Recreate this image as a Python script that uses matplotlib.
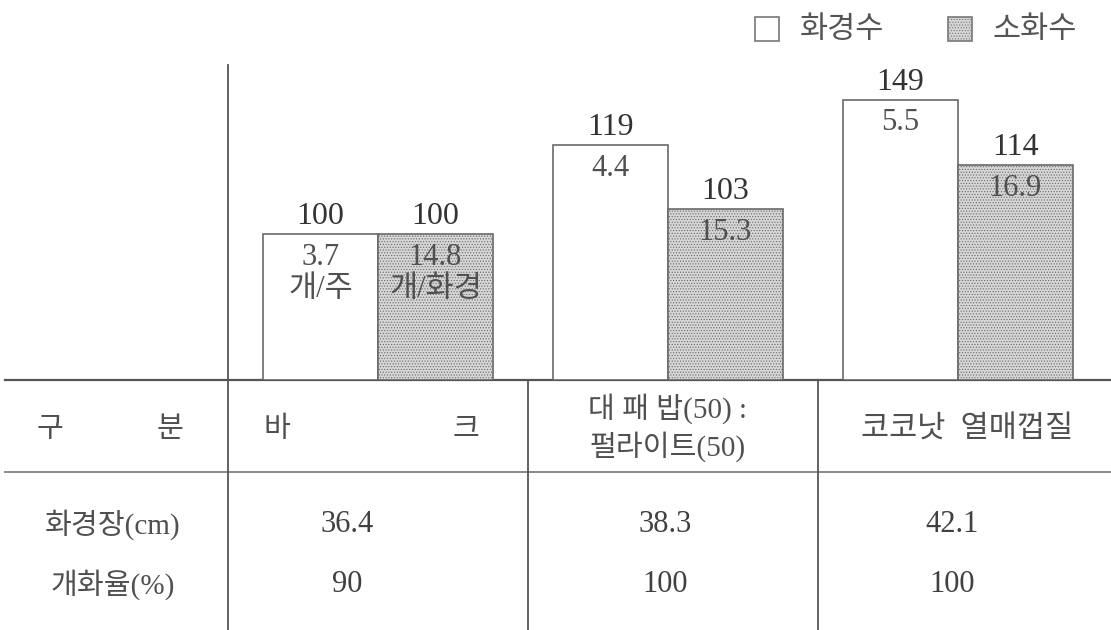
import matplotlib
matplotlib.use("Agg")
import matplotlib.pyplot as plt

plt.rcParams['font.family'] = ['Liberation Serif', 'Noto Sans CJK KR']
plt.rcParams['hatch.linewidth'] = 0.5
plt.rcParams['hatch.color'] = '#ababab'

# data
media = ['바', '크', '대 패 밥(50) :\n펄라이트(50)', '코코낫  열매껍질']
series = ['화경수', '소화수']
index_vals = [[100, 119, 149], [100, 103, 114]]          # label above bar
inner_vals = [['3.7\n개/주', '4.4', '5.5'], ['14.8\n개/화경', '15.3', '16.9']]
# drawn bar heights as they appear in the figure (바크 = 100)
drawn = [[100, 161, 192], [100, 117, 147]]
stem_len = ['36.4', '38.3', '42.1']
flower_rate = ['90', '100', '100']
row_names = ['화경장(cm)', '개화율(%)']

W, H = 1111, 630
fig = plt.figure(figsize=(W / 100, H / 100), dpi=100)

# overlay in pixel coordinates for the table frame
ov = fig.add_axes([0, 0, 1, 1])
ov.set_xlim(0, W)
ov.set_ylim(H, 0)
ov.axis('off')

line_c = '#555555'
txt_c = '#333333'
gray_fill = '#d6d6d6'

# bar panel
base_y, top_y = 380, 65
axb = fig.add_axes([228 / W, 1 - base_y / H, (W - 228) / W, (base_y - top_y) / H])
axb.set_xlim(-150 / 290, (W - 378) / 290)
axb.set_ylim(0, (base_y - top_y) / 1.46)
axb.axis('off')

bw = 115 / 290
faces = ['white', gray_fill]
hatches = [None, '......']
for s in range(2):
    xs = [i + (s - 0.5) * bw for i in range(3)]
    bars = axb.bar(xs, drawn[s], width=bw, color=faces[s], edgecolor='#6a6a6a',
                   linewidth=1.2, hatch=hatches[s], zorder=2)
    for b, v, t in zip(bars, index_vals[s], inner_vals[s]):
        cx = b.get_x() + b.get_width() / 2
        h = b.get_height()
        axb.text(cx, h + 2, str(v), ha='center', va='bottom', fontsize=23, color=txt_c)
        axb.text(cx, h - 6, t, ha='center', va='top', fontsize=22, color='#505050',
                 linespacing=1.15, zorder=3)

# table lines
ov.plot([5, W], [380, 380], color=line_c, lw=1.6)
ov.plot([5, W], [472, 472], color='#8a8a8a', lw=1.4)
ov.plot([228, 228], [65, H], color=line_c, lw=1.3)
for x in [528, 818]:
    ov.plot([x, x], [380, H], color=line_c, lw=1.3)

# header row
fs = 21
ov.text(50, 430, '구', ha='center', va='center', fontsize=fs, color='#505050')
ov.text(170, 430, '분', ha='center', va='center', fontsize=fs, color='#505050')
ov.text(277, 430, media[0], ha='center', va='center', fontsize=fs, color='#505050')
ov.text(466, 430, media[1], ha='center', va='center', fontsize=fs, color='#505050')
ov.text(668, 428, media[2], ha='center', va='center', fontsize=fs, color='#505050',
        linespacing=1.3)
ov.text(967, 430, media[3], ha='center', va='center', fontsize=22, color='#505050')

# body rows
ov.text(113, 525, row_names[0], ha='center', va='center', fontsize=fs, color='#505050')
ov.text(113, 585, row_names[1], ha='center', va='center', fontsize=fs, color='#505050')
body_x = [347, 665, 952]
for x, a, b in zip(body_x, stem_len, flower_rate):
    ov.text(x, 525, a, ha='center', va='center', fontsize=22, color='#404040')
    ov.text(x, 585, b, ha='center', va='center', fontsize=22, color='#404040')

# legend
for x0, fc, hc, name in [(755, 'white', None, series[0]), (948, gray_fill, '......', series[1])]:
    ov.add_patch(plt.Rectangle((x0, 17), 24, 24, facecolor=fc, edgecolor='#777777',
                               lw=1.2, hatch=hc))
    ov.text(x0 + 45, 30, name, ha='left', va='center', fontsize=22, color='#555555')

fig.savefig('out.png', dpi=100)
